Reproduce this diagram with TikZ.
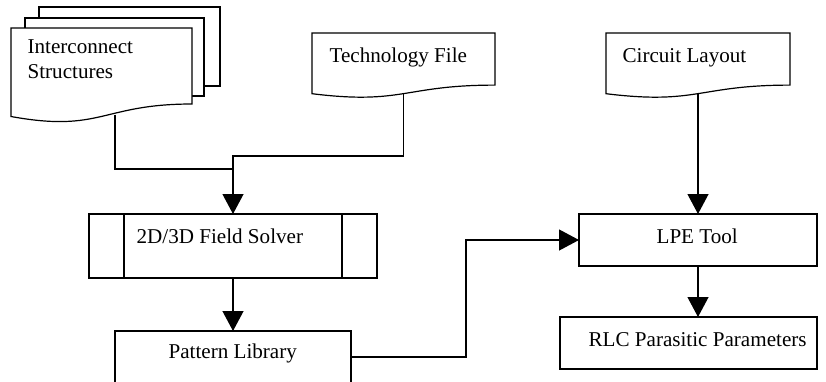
\documentclass[tikz,border=0pt]{standalone}
\usepackage{fontspec}
\setmainfont{Liberation Serif}
\usetikzlibrary{arrows.meta}
\begin{document}
\begin{tikzpicture}[x=1pt,y=-1pt,
  line width=1.2pt,
  shapeline/.style={draw=black,fill=white,line width=1.2pt},
  boxnode/.style={draw=black,fill=white,line width=1.2pt,inner sep=0pt,outer sep=0pt,minimum width=#1},
  lbl/.style={anchor=base west,inner sep=0pt,font=\fontsize{21.1}{25}\selectfont},
  arr/.style={-{Triangle[width=21pt,length=20pt]}},
  conn/.style={line width=1.2pt}]
\useasboundingbox (0,0) rectangle (826,381);
\clip (0,0) rectangle (826,381);

% Interconnect Structures (multi-document)
\draw[shapeline] (39,7) rectangle (220,86);
\draw[shapeline] (25,18) rectangle (204,96);
\draw[shapeline] (11,28) -- (192,28) -- (192,104)
  .. controls (101.5,104) and (101.5,133) .. (11,116.5) -- cycle;
\coordinate (icB) at (115,114.6);
\node[lbl] (icT1) at (27,53) {Interconnect};
\node[lbl] (icT2) at (27,78) {Structures};

% Technology File
\draw[shapeline] (312,33) -- (495,33) -- (495,85.1)
  .. controls (403.5,85.1) and (403.5,105) .. (312,93.7) -- cycle;
\coordinate (techB) at (403.5,93.6);
\node[lbl] (techT) at (329,62) {Technology File};

% Circuit Layout
\draw[shapeline] (606,33) -- (790,33) -- (790,85.1)
  .. controls (698,85.1) and (698,105) .. (606,93.7) -- cycle;
\coordinate (circB) at (698,93.6);
\node[lbl] (circT) at (622,62) {Circuit Layout};

% 2D/3D Field Solver (predefined process)
\node[boxnode=288pt,minimum height=64pt] (solver) at (233,246) {};
\draw[conn] (124,214) -- (124,278);
\draw[conn] (342,214) -- (342,278);
\node[lbl] (solverT) at (136,243) {2D/3D Field Solver};

% Pattern Library
\node[boxnode=236pt,minimum height=52pt] (lib) at (233,357) {};
\node[lbl] (libT) at (168,358) {Pattern Library};

% LPE Tool
\node[boxnode=238pt,minimum height=52pt] (lpe) at (698,240) {};
\node[lbl] (lpeT) at (656,243) {LPE Tool};

% RLC Parasitic Parameters
\node[boxnode=257pt,minimum height=52pt] (rlc) at (688.5,343) {};
\node[lbl] (rlcT) at (588,346) {RLC Parasitic Parameters};

% connectors
\coordinate (j1) at (233,156);
\coordinate (j2) at (233,169);
\coordinate (j3) at (466,357);
\coordinate (j4) at (466,240);
\draw[conn] (icB) |- (j2);
\draw[conn,arr] (techB) |- (j1) -- (solver.north);
\draw[conn,arr] (solver.south) -- (lib.north);
\draw[conn,arr] (lib.east) -- (j3) -- (j4) -- (lpe.west);
\draw[conn,arr] (circB) -- (lpe.north);
\draw[conn,arr] (lpe.south) -- (lpe.south |- rlc.north);
\end{tikzpicture}
\end{document}
